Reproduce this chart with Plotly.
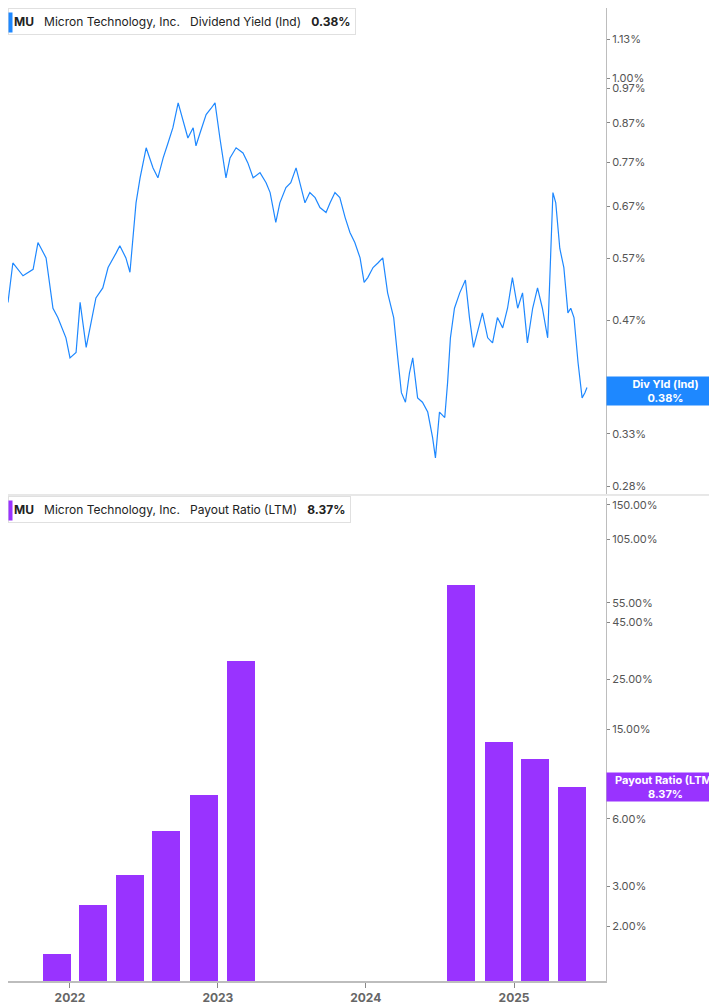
import plotly.graph_objects as go
from plotly.subplots import make_subplots
import math

yield_dates = ["2021-08-01","2021-08-13","2021-09-07","2021-10-02","2021-10-14","2021-11-03","2021-11-20","2021-12-02","2021-12-22",
"2022-01-01","2022-01-16","2022-01-26","2022-02-10","2022-02-19","2022-03-06","2022-03-23","2022-04-05","2022-04-25","2022-05-04",
"2022-05-19","2022-05-29","2022-06-13","2022-06-23","2022-07-08","2022-07-25","2022-08-06","2022-08-19","2022-08-31","2022-09-12",
"2022-09-25","2022-10-07","2022-10-19","2022-11-01","2022-11-08","2022-11-18","2022-12-03","2022-12-15","2022-12-25",
"2023-01-06","2023-01-21","2023-01-31","2023-02-15","2023-03-04","2023-03-16","2023-03-29","2023-04-15","2023-04-30","2023-05-10",
"2023-05-24","2023-06-03","2023-06-18","2023-06-30","2023-07-13","2023-07-23","2023-08-04","2023-08-16","2023-08-29","2023-09-10",
"2023-09-25","2023-10-05","2023-10-17","2023-10-29","2023-11-11","2023-11-23","2023-12-05","2023-12-18","2023-12-28",
"2024-01-06","2024-01-19","2024-01-31","2024-02-12","2024-02-24","2024-03-10","2024-03-20","2024-03-29","2024-04-08","2024-04-18",
"2024-04-26","2024-05-08","2024-05-20","2024-06-02","2024-06-14","2024-06-21","2024-07-01","2024-07-14","2024-07-21","2024-07-28",
"2024-08-07","2024-08-20","2024-09-03","2024-09-13","2024-09-23","2024-10-03","2024-10-15","2024-10-28","2024-11-09","2024-11-21",
"2024-12-04","2024-12-16","2024-12-28","2025-01-10","2025-01-22","2025-02-03","2025-02-16","2025-02-28","2025-03-12","2025-03-25",
"2025-04-02","2025-04-07","2025-04-14","2025-04-24","2025-05-04","2025-05-14","2025-05-21","2025-05-29","2025-06-08","2025-06-18",
"2025-06-25","2025-06-30"]
yield_vals = [0.497,0.562,0.540,0.551,0.599,0.571,0.488,0.474,0.445,
0.418,0.425,0.497,0.432,0.459,0.504,0.520,0.554,0.580,0.593,
0.571,0.546,0.678,0.733,0.805,0.756,0.733,0.780,0.817,0.857,
0.926,0.877,0.830,0.857,0.810,0.843,0.893,0.910,0.926,
0.830,0.733,0.780,0.805,0.792,0.768,0.733,0.745,0.722,0.700,
0.638,0.678,0.711,0.722,0.756,0.722,0.678,0.700,0.689,0.668,
0.658,0.678,0.700,0.689,0.648,0.618,0.599,0.571,0.529,
0.537,0.554,0.562,0.571,0.512,0.474,0.418,0.375,0.364,0.399,
0.418,0.369,0.364,0.353,0.326,0.306,0.353,0.347,0.387,0.445,
0.488,0.512,0.533,0.474,0.432,0.452,0.481,0.445,0.438,0.474,
0.459,0.488,0.537,0.488,0.512,0.438,0.488,0.520,0.488,0.445,
0.571,0.700,0.678,0.588,0.554,0.481,0.488,0.474,0.412,0.369,
0.375,0.381]

payout_dates = ["2021-11-30","2022-02-27","2022-05-29","2022-08-26","2022-11-28","2023-02-27",
"2024-08-24","2024-11-24","2025-02-21","2025-05-23"]
payout_vals = [1.51,2.48,3.37,5.29,7.67,30.3,66.0,13.2,11.1,8.37]

top_ticks = [1.13,1.00,0.97,0.87,0.77,0.67,0.57,0.47,0.37,0.33,0.28]
bot_ticks = [150,105,55,45,25,15,8,6,3,2]
x_ticks = ["2022-01-01","2023-01-01","2024-01-01","2025-01-01"]
x_labels = ["2022","2023","2024","2025"]

BLUE = "#1E88FF"
PURPLE = "#9933FF"
GRID = "#BDBDBD"
FONT = "Inter"

fig = make_subplots(rows=2, cols=1, shared_xaxes=True, vertical_spacing=0.0035,
                    row_heights=[0.5017, 0.4983])
fig.add_trace(go.Scatter(x=yield_dates, y=yield_vals, mode="lines",
                         line=dict(color=BLUE, width=1.2), showlegend=False), row=1, col=1)
fig.add_trace(go.Bar(x=payout_dates, y=payout_vals, marker=dict(color=PURPLE, line=dict(width=0)),
                     width=69*86400000, showlegend=False), row=2, col=1)

tickfont = dict(family=FONT, size=11, color="#555")
fig.update_yaxes(type="log", side="right", showgrid=False, ticks="outside", ticklen=3,
                 tickcolor="#888", showline=True, linecolor=GRID, linewidth=1,
                 tickfont=tickfont, zeroline=False)
fig.update_yaxes(range=[math.log10(0.273), math.log10(1.245)], tickvals=top_ticks,
                 ticktext=[f"{v:.2f}%" for v in top_ticks], row=1, col=1)
fig.update_yaxes(range=[math.log10(1.14), math.log10(161)], tickvals=bot_ticks,
                 ticktext=[f"{v:.2f}%" for v in bot_ticks], row=2, col=1)
fig.update_xaxes(range=["2021-08-01", "2025-08-16"], showgrid=False, zeroline=False)
fig.update_xaxes(row=2, col=1, tickvals=x_ticks, ticktext=x_labels, ticks="outside",
                 ticklen=5, tickcolor="#888", showline=True, linecolor=GRID, linewidth=2,
                 tickfont=dict(family=FONT, size=12, color="#666", weight="bold"))
fig.update_xaxes(row=1, col=1, showticklabels=False, showline=False)

fig.add_shape(type="line", xref="paper", yref="paper", x0=0, x1=1.19, y0=0.4995, y1=0.4995,
              line=dict(color="#D0D0D0", width=1))

def legend(y, name, val, color):
    fig.add_annotation(xref="paper", yref="paper", x=0.0, y=y, xanchor="left", yanchor="top",
                       text=f"<b>MU</b>   Micron Technology, Inc.   {name}   <b>{val}</b>",
                       showarrow=False, align="left", bgcolor="white", bordercolor="#E0E0E0",
                       borderwidth=1, borderpad=5, font=dict(family=FONT, size=12, color="#222"))
    fig.add_annotation(xref="paper", yref="paper", x=0.0, y=y - 0.004, xanchor="left", yanchor="top",
                       text="", showarrow=False, bgcolor=color, width=3, height=19, borderpad=0)

legend(1.0, "Dividend Yield (Ind)", "0.38%", BLUE)
legend(0.4985, "Payout Ratio (LTM)", "8.37%", PURPLE)

H = 973
def badge(ymid, txt, color):
    fig.add_annotation(xref="paper", yref="paper", x=1.0, y=ymid, xanchor="left", yanchor="middle",
                       text=txt, showarrow=False, bgcolor=color, width=113, height=24, borderpad=2,
                       font=dict(family=FONT, size=11, color="white", weight="bold"))

badge(1 - 382.5/H, "Div Yld (Ind)<br>0.38%", BLUE)
badge(1 - 779/H, "Payout Ratio (LTM)<br>8.37%", PURPLE)

fig.update_layout(width=709, height=997, margin=dict(l=0, r=111, t=0, b=24),
                  plot_bgcolor="white", paper_bgcolor="white", bargap=0)
fig.write_html("out.html")
